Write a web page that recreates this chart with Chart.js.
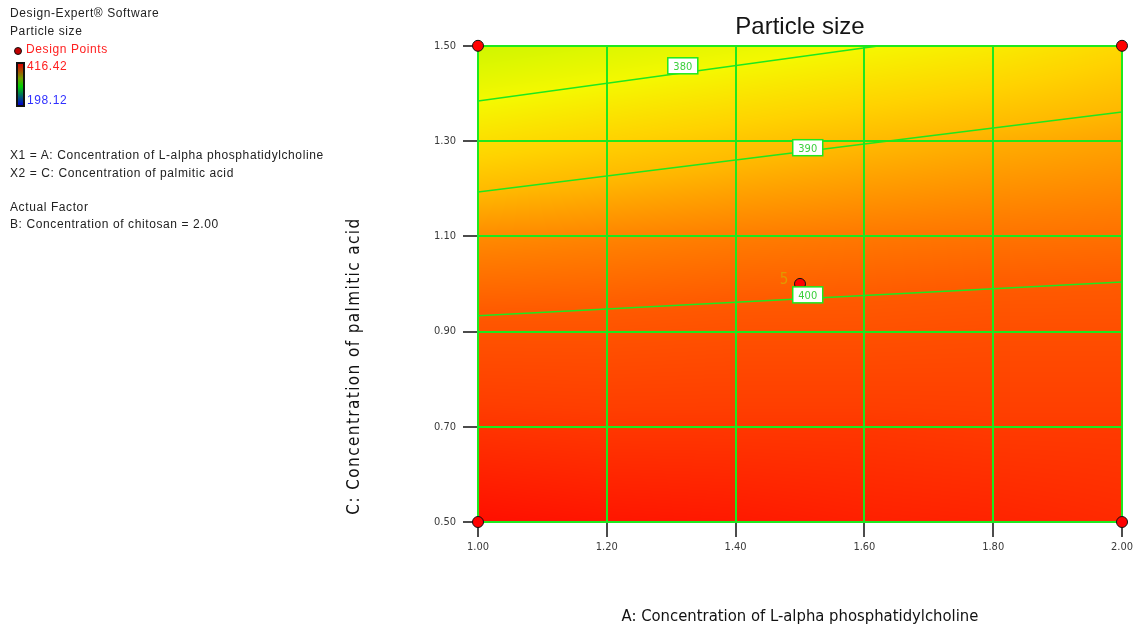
<!DOCTYPE html>
<html>
<head>
<meta charset="utf-8">
<script src="https://cdn.jsdelivr.net/npm/chart.js@4/dist/chart.umd.min.js"></script>
<style>
  body { margin: 0; background: #fff; }
  #wrap { position: relative; width: 1138px; height: 632px; }
  #chart { position: absolute; left: 0; top: 0; }
  .note { position: absolute; font-family: "Liberation Sans", Arial, sans-serif; font-size: 12px;
          letter-spacing: 0.6px; line-height: 14px; color: #222; white-space: nowrap; }
  #bar { position: absolute; left: 16px; top: 62px; width: 5px; height: 41px; border: 2px solid #111;
         background: linear-gradient(to bottom, #e00000 0%, #70a000 35%, #00d000 55%, #0000d0 100%); }
  #dot { position: absolute; left: 14px; top: 47px; width: 6px; height: 6px; border-radius: 50%;
         background: #c00000; border: 1px solid #111; }
</style>
</head>
<body>
<div id="wrap">
  <canvas id="chart" width="1138" height="632"></canvas>
  <div class="note" style="left:10px;top:6px">Design-Expert® Software</div>
  <div class="note" style="left:10px;top:24px">Particle size</div>
  <div id="dot"></div>
  <div class="note" style="left:26px;top:42px;color:#ff2020">Design Points</div>
  <div id="bar"></div>
  <div class="note" style="left:27px;top:59px;color:#ff2020">416.42</div>
  <div class="note" style="left:27px;top:93px;color:#3030ff">198.12</div>
  <div class="note" style="left:10px;top:148px">X1 = A: Concentration of L-alpha phosphatidylcholine</div>
  <div class="note" style="left:10px;top:166px">X2 = C: Concentration of palmitic acid</div>
  <div class="note" style="left:10px;top:200px">Actual Factor</div>
  <div class="note" style="left:10px;top:217px">B: Concentration of chitosan = 2.00</div>
</div>
<script>
// DATA
const xTicks = [1.0, 1.2, 1.4, 1.6, 1.8, 2.0];
const yTicks = [0.5, 0.7, 0.9, 1.1, 1.3, 1.5];

// estimated particle size at the grid nodes (rows = palmitic acid, cols = phosphatidylcholine)
const gridX = [1.0, 1.2, 1.4, 1.6, 1.8, 2.0];
const gridY = [0.5, 0.7, 0.9, 1.1, 1.3, 1.5];
const sizeRow05 = [413, 412, 411.5, 410.5, 410, 409];
const sizeRow07 = [407.5, 407, 407, 407, 406.5, 406.5];
const sizeRow09 = [401.5, 401.5, 402, 402, 402.5, 402.5];
const sizeRow11 = [394.5, 395.2, 396, 396.6, 397.1, 397.5];
const sizeRow13 = [384, 386, 387.8, 389.4, 390.8, 392];
const sizeRow15 = [374, 376, 378, 380, 382, 385];
const sizeGrid = [sizeRow05, sizeRow07, sizeRow09, sizeRow11, sizeRow13, sizeRow15];

// contour lines
const contour380 = [{ x: 1.0, y: 1.384 }, { x: 1.624, y: 1.5 }];
const contour390 = [{ x: 1.0, y: 1.193 }, { x: 2.0, y: 1.361 }];
const contour400 = [{ x: 1.0, y: 0.933 }, { x: 2.0, y: 1.004 }];
const contourLabels = ["380", "390", "400"];
const contourLabelX = [1.318, 1.512, 1.512];
const contourLabelY = [1.458, 1.286, 0.977];

// design points
const designX = [1.0, 2.0, 1.0, 2.0, 1.5];
const designY = [1.5, 1.5, 0.5, 0.5, 1.0];
const designCount = ["", "", "", "", "5"];

// colour ramp for particle size
const colorStops = [
  [372, [195, 245, 0]], [380, [245, 248, 0]], [386, [255, 210, 0]], [390, [255, 182, 0]],
  [396, [255, 125, 0]], [400, [255, 90, 0]], [406, [255, 62, 0]], [410, [255, 35, 0]], [414, [255, 8, 0]]
];

const narrow = '"Liberation Sans Narrow", "DejaVu Sans Condensed", sans-serif';
const green = "#1ee81e";

// FUNCTIONS
function findCell(arr, v) {
  let i = 0;
  while (i < arr.length - 2 && v > arr[i + 1]) i++;
  return i;
}

function sizeAt(x, y) {
  const i = findCell(gridX, x);
  const j = findCell(gridY, y);
  const tx = (x - gridX[i]) / (gridX[i + 1] - gridX[i]);
  const ty = (y - gridY[j]) / (gridY[j + 1] - gridY[j]);
  const a = sizeGrid[j][i], b = sizeGrid[j][i + 1];
  const c = sizeGrid[j + 1][i], d = sizeGrid[j + 1][i + 1];
  return (a * (1 - tx) + b * tx) * (1 - ty) + (c * (1 - tx) + d * tx) * ty;
}

function colorFor(z) {
  if (z <= colorStops[0][0]) return colorStops[0][1];
  for (let k = 1; k < colorStops.length; k++) {
    if (z <= colorStops[k][0]) {
      const [z0, c0] = colorStops[k - 1];
      const [z1, c1] = colorStops[k];
      const t = (z - z0) / (z1 - z0);
      return [0, 1, 2].map((n) => c0[n] + (c1[n] - c0[n]) * t);
    }
  }
  return colorStops[colorStops.length - 1][1];
}

const heatmap = {
  id: "heatmap",
  beforeDraw(chart) {
    const { ctx, chartArea: area, scales } = chart;
    const w = Math.round(area.right - area.left);
    const h = Math.round(area.bottom - area.top);
    const img = ctx.createImageData(w, h);
    for (let py = 0; py < h; py++) {
      const yv = scales.y.getValueForPixel(area.top + py + 0.5);
      for (let px = 0; px < w; px++) {
        const xv = scales.x.getValueForPixel(area.left + px + 0.5);
        const col = colorFor(sizeAt(xv, yv));
        const o = (py * w + px) * 4;
        img.data[o] = col[0];
        img.data[o + 1] = col[1];
        img.data[o + 2] = col[2];
        img.data[o + 3] = 255;
      }
    }
    ctx.putImageData(img, Math.round(area.left), Math.round(area.top));
  },
};

const annotations = {
  id: "annotations",
  afterDatasetsDraw(chart) {
    const { ctx, scales } = chart;
    ctx.save();
    // contour value boxes
    contourLabels.forEach((txt, i) => {
      const cx = scales.x.getPixelForValue(contourLabelX[i]);
      const cy = scales.y.getPixelForValue(contourLabelY[i]);
      ctx.fillStyle = "#fff";
      ctx.fillRect(cx - 15, cy - 8, 30, 16);
      ctx.strokeStyle = green;
      ctx.lineWidth = 1.5;
      ctx.strokeRect(cx - 15, cy - 8, 30, 16);
      ctx.fillStyle = "#3ccf3c";
      ctx.font = "11px " + narrow;
      ctx.textAlign = "center";
      ctx.textBaseline = "middle";
      ctx.fillText(txt, cx, cy + 1);
    });
    // replicate count next to the centre point
    designCount.forEach((txt, i) => {
      if (!txt) return;
      const px = scales.x.getPixelForValue(designX[i]);
      const py = scales.y.getPixelForValue(designY[i]);
      ctx.fillStyle = "#e09a00";
      ctx.font = "15px " + narrow;
      ctx.textAlign = "center";
      ctx.textBaseline = "middle";
      ctx.fillText(txt, px - 16, py - 4);
    });
    // y axis title
    ctx.translate(355, 366);
    ctx.rotate(-Math.PI / 2);
    ctx.fillStyle = "#111";
    ctx.font = "17px " + narrow;
    ctx.letterSpacing = "1.4px";
    ctx.textAlign = "center";
    ctx.textBaseline = "middle";
    ctx.fillText("C: Concentration of palmitic acid", 0, 0);
    ctx.restore();
  },
};

const contourStyle = {
  type: "line",
  borderColor: green,
  borderWidth: 1.5,
  pointRadius: 0,
  fill: false,
};

const ctx = document.getElementById("chart").getContext("2d");
const chart = new Chart(ctx, {
  type: "scatter",
  data: {
    datasets: [
      { ...contourStyle, data: contour380 },
      { ...contourStyle, data: contour390 },
      { ...contourStyle, data: contour400 },
      {
        data: designX.map((x, i) => ({ x: x, y: designY[i] })),
        backgroundColor: "#ff0000",
        borderColor: "#111",
        borderWidth: 1,
        pointRadius: 5.5,
        pointHoverRadius: 5.5,
        clip: false,
      },
    ],
  },
  options: {
    responsive: false,
    animation: false,
    events: [],
    layout: { padding: { left: 0, right: 16, top: 0, bottom: 0 } },
    plugins: {
      legend: { display: false },
      tooltip: { enabled: false },
      title: {
        display: true,
        text: "Particle size",
        fullSize: false,
        color: "#151515",
        font: { family: '"Liberation Sans", Arial, sans-serif', size: 24, weight: "normal" },
        padding: { top: 13, bottom: 4 },
      },
    },
    scales: {
      x: {
        type: "linear",
        min: 1,
        max: 2,
        afterBuildTicks: (s) => { s.ticks = xTicks.map((v) => ({ value: v })); },
        afterFit: (s) => { s.height = 110; },
        ticks: {
          color: "#3a3a3a",
          padding: 4,
          font: { family: narrow, size: 11 },
          callback: (v) => Number(v).toFixed(2),
        },
        grid: { color: green, lineWidth: 2, tickColor: "#111", tickLength: 15, tickWidth: 1.5 },
        border: { color: green, width: 2 },
        title: {
          display: true,
          text: "A: Concentration of L-alpha phosphatidylcholine",
          color: "#111",
          font: { family: narrow, size: 16.5 },
          padding: { top: 0, bottom: 5 },
        },
      },
      y: {
        type: "linear",
        min: 0.5,
        max: 1.5,
        afterBuildTicks: (s) => { s.ticks = yTicks.map((v) => ({ value: v })); },
        afterFit: (s) => { s.width = 478; },
        ticks: {
          color: "#3a3a3a",
          padding: 7,
          font: { family: narrow, size: 11 },
          callback: (v) => Number(v).toFixed(2),
        },
        grid: { color: green, lineWidth: 2, tickColor: "#111", tickLength: 15, tickWidth: 1.5 },
        border: { color: green, width: 2 },
      },
    },
  },
  plugins: [heatmap, annotations],
});
</script>
</body>
</html>
